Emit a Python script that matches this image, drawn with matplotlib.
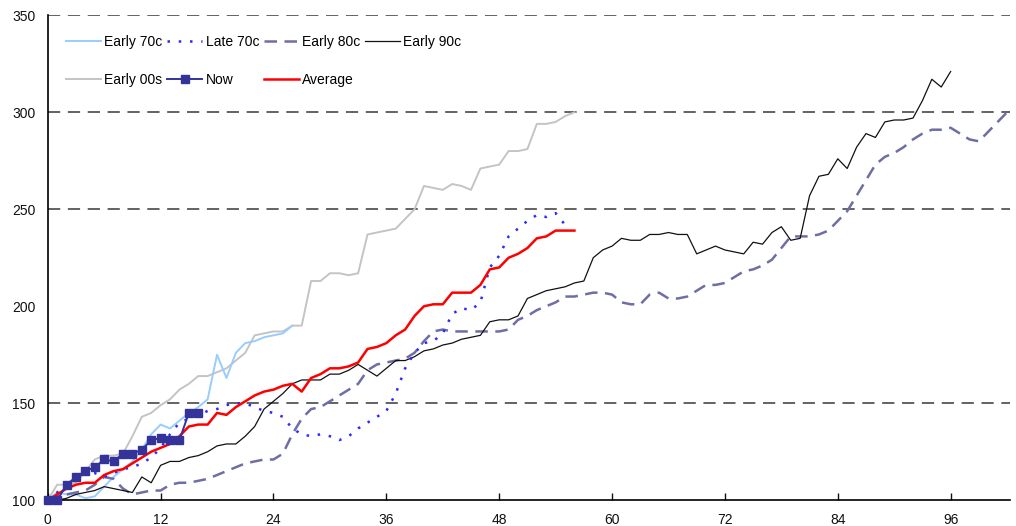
import numpy as np
import matplotlib
matplotlib.use("Agg")
import matplotlib.pyplot as plt

plt.rcParams['font.family'] = ['Liberation Sans', 'DejaVu Sans']

# index levels (start = 100) by months since the start of each episode
early_70s = [100, 104, 103, 103, 101, 102, 107, 112, 116, 120, 126, 134, 139, 137, 141, 145,
             148, 152, 175, 163, 176, 181, 182, 184, 185, 186, 190]

late_70s = [100, 104, 108, 113, 114, 114, 112, 114, 116, 117, 119, 122, 127, 134, 140, 142,
            144, 146, 147, 149, 150, 150, 148, 146, 145, 143, 137, 134, 133, 134, 133, 131,
            133, 137, 140, 143, 146, 155, 168, 176, 181, 182, 186, 196, 199, 198, 202, 220,
            226, 236, 240, 244, 247, 246, 248, 242]

early_80s = [100, 102, 103, 104, 105, 108, 112, 111, 106, 103, 104, 105, 105, 108, 109, 109,
             110, 111, 113, 115, 117, 119, 120, 121, 121, 124, 134, 142, 147, 148, 151, 154,
             157, 160, 167, 170, 171, 172, 173, 176, 182, 187, 188, 187, 187, 187, 187, 187,
             187, 188, 193, 195, 198, 200, 202, 205, 205, 206, 207, 207, 206, 202, 201, 201,
             206, 207, 204, 204, 205, 208, 211, 211, 212, 215, 218, 219, 221, 224, 230, 236,
             236, 236, 237, 239, 244, 249, 257, 265, 273, 277, 279, 282, 286, 289, 291, 291,
             292, 289, 286, 285, 290, 295, 300]

early_90s = [100, 100, 101, 103, 104, 105, 107, 106, 105, 104, 112, 109, 118, 120, 120, 122,
             123, 125, 128, 129, 129, 133, 138, 147, 151, 155, 160, 162, 162, 162, 165, 165,
             167, 170, 167, 164, 168, 172, 172, 174, 177, 178, 180, 181, 183, 184, 185, 192,
             193, 193, 195, 204, 206, 208, 209, 210, 212, 213, 225, 229, 231, 235, 234, 234,
             237, 237, 238, 237, 237, 227, 229, 231, 229, 228, 227, 233, 232, 238, 241, 234,
             235, 257, 267, 268, 276, 271, 282, 289, 287, 295, 296, 296, 297, 306, 317, 313,
             321]

early_00s = [100, 108, 108, 109, 115, 121, 123, 123, 124, 133, 143, 145, 149, 152, 157, 160,
             164, 164, 166, 168, 172, 176, 185, 186, 187, 187, 190, 190, 213, 213, 217, 217,
             216, 217, 237, 238, 239, 240, 245, 250, 262, 261, 260, 263, 262, 260, 271, 272,
             273, 280, 280, 281, 294, 294, 295, 298, 300]

now = [100, 100, 108, 112, 115, 117, 121, 120, 124, 124, 126, 131, 132, 131, 131, 145, 145]

average = [100, 103, 106, 108, 109, 109, 113, 115, 116, 119, 122, 125, 127, 129, 133, 138,
           139, 139, 145, 144, 148, 151, 154, 156, 157, 159, 160, 156, 163, 165, 168, 168,
           169, 171, 178, 179, 181, 185, 188, 195, 200, 201, 201, 207, 207, 207, 211, 219,
           220, 225, 227, 230, 235, 236, 239, 239, 239]

x_ticks = [0, 12, 24, 36, 48, 60, 72, 84, 96]
y_ticks = [100, 150, 200, 250, 300, 350]
grid_levels = [150, 250, 300, 350]

fig = plt.figure(figsize=(10.16, 5.26), dpi=100)
ax = fig.add_axes([0.047, 0.049, 0.947, 0.922])

for lvl in grid_levels:
    ax.axhline(lvl, color='#383838', lw=1.1, dashes=(8, 5), zorder=1)

l_e00, = ax.plot(range(len(early_00s)), early_00s, color='#c4c4c4', lw=1.4, label='Early 00s')
l_e70, = ax.plot(range(len(early_70s)), early_70s, color='#99ccff', lw=1.4, label='Early 70c')
l_e80, = ax.plot(range(len(early_80s)), early_80s, color='#6e6ea6', lw=1.8,
                 linestyle=(0, (5, 3)), label='Early 80c')
l_e90, = ax.plot(range(len(early_90s)), early_90s, color='#111111', lw=0.9, label='Early 90c')
l_l70, = ax.plot(range(len(late_70s)), late_70s, color='#2a2aff', lw=1.8,
                 linestyle=(0, (1, 3.5)), label='Late 70c')
l_avg, = ax.plot(range(len(average)), average, color='#ff0000', lw=1.8, label='Average')
l_now, = ax.plot(range(len(now)), now, color='#333399', lw=1.4, marker='s', markersize=5.5,
                 label='Now', clip_on=False, zorder=5)

ax.set_xlim(0, 102.3)
ax.set_ylim(100, 350)
ax.set_xticks(x_ticks)
ax.set_yticks(y_ticks)
for s in ['top', 'right']:
    ax.spines[s].set_visible(False)
ax.spines['left'].set_linewidth(1.2)
ax.spines['bottom'].set_linewidth(1.2)
ax.tick_params(axis='x', direction='in', length=5, width=1, labelsize=10,
               colors='#111111', pad=9)
ax.tick_params(axis='y', length=0, labelsize=10, colors='#111111', pad=9)

handles = [l_e70, l_e00, l_l70, l_now, l_e80, l_avg, l_e90]
ax.legend(handles=handles, labels=[h.get_label() for h in handles], ncol=4,
          loc='upper left', bbox_to_anchor=(0.006, 0.985), frameon=False,
          fontsize=10, handlelength=2.5, handletextpad=0.25, columnspacing=0.35,
          labelspacing=1.7)

fig.savefig('out.png', dpi=100)
